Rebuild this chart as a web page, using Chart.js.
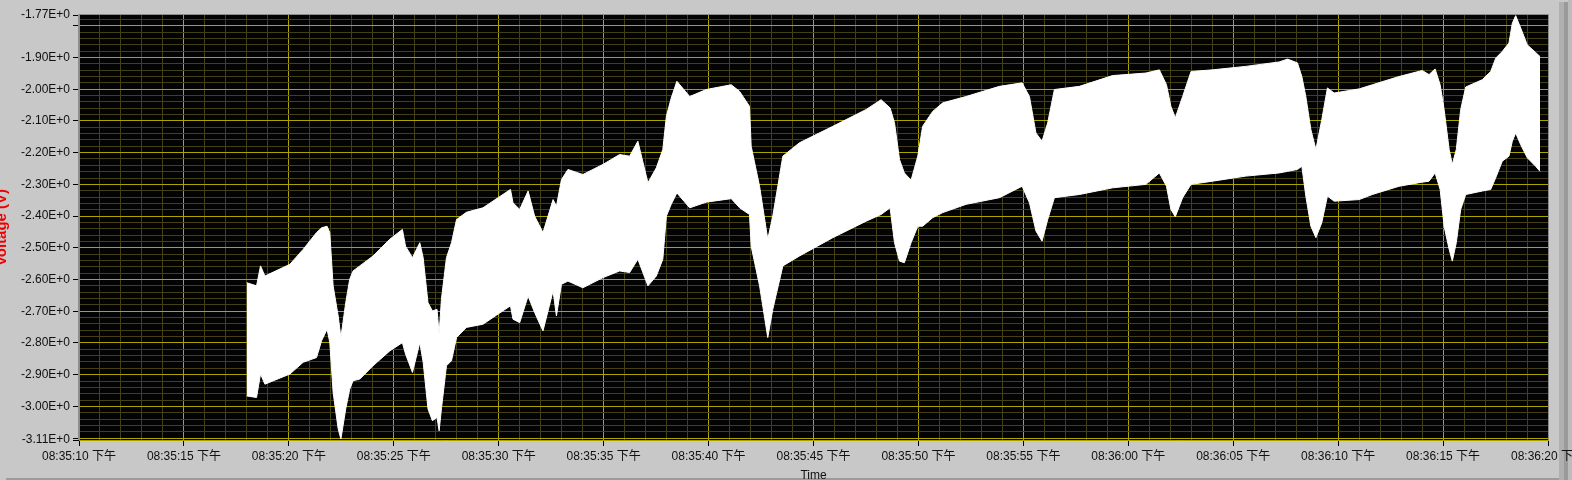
<!DOCTYPE html>
<html>
<head>
<meta charset="utf-8">
<title>Voltage</title>
<script src="https://cdn.jsdelivr.net/npm/chart.js@4/dist/chart.umd.min.js"></script>
<style>
    html, body { margin: 0; padding: 0; background: #c8c8c8; overflow: hidden; }
    canvas { display: block; }
</style>
</head>
<body>
<canvas id="voltageChart" width="1572" height="480"></canvas>
<script>
// 时间轴: 从 08:35:10 开始的秒数
const times = [7.99, 8.46, 8.65, 8.86, 10.05, 10.68, 11.32, 11.56, 11.82, 11.95,
    12.11, 12.35, 12.48, 12.71, 12.90, 13.06, 13.38, 14.01, 14.81, 15.41,
    15.56, 15.89, 16.24, 16.40, 16.63, 16.84, 17.06, 17.16, 17.27, 17.51,
    17.75, 17.99, 18.46, 19.25, 19.97, 20.56, 20.68, 21.00, 21.40, 21.71,
    22.11, 22.59, 22.75, 22.99, 23.30, 24.01, 24.97, 25.76, 26.24, 26.63,
    27.11, 27.51, 27.82, 27.99, 28.22, 28.49, 29.10, 29.89, 31.08, 31.48,
    31.95, 32.03, 32.43, 32.82, 33.06, 33.54, 34.33, 35.92, 37.51, 38.22,
    38.65, 38.86, 39.10, 39.33, 39.65, 39.97, 40.20, 40.68, 41.16, 42.27,
    43.86, 44.94, 45.29, 45.60, 45.89, 46.16, 46.48, 47.67, 49.25, 50.84,
    51.48, 51.82, 52.03, 52.24, 52.59, 52.99, 54.01, 55.60, 57.19, 57.59,
    58.06, 58.27, 58.46, 58.70, 58.94, 59.22, 59.49, 59.81, 61.00, 61.63,
    62.90, 64.01, 64.33, 64.62, 64.86, 65.05, 65.29, 65.44, 65.63, 65.84,
    66.08, 66.87, 67.27, 67.51, 67.82, 68.14, 68.30, 68.46, 68.70, 69.01, 69.41, 69.62];

// 上包络 (V)
const upperVolts = [-2.610, -2.620, -2.557, -2.589, -2.552, -2.505, -2.452, -2.437, -2.432, -2.452,
    -2.620, -2.715, -2.783, -2.673, -2.599, -2.573, -2.557, -2.526, -2.473, -2.442,
    -2.495, -2.531, -2.484, -2.531, -2.673, -2.699, -2.694, -2.772, -2.662, -2.531,
    -2.484, -2.411, -2.388, -2.374, -2.342, -2.316, -2.358, -2.379, -2.321, -2.400,
    -2.452, -2.348, -2.369, -2.285, -2.253, -2.269, -2.237, -2.206, -2.211, -2.164,
    -2.295, -2.248, -2.190, -2.085, -2.028, -1.975, -2.023, -2.001, -1.986, -2.007,
    -2.054, -2.180, -2.306, -2.473, -2.400, -2.211, -2.169, -2.117, -2.064, -2.033,
    -2.059, -2.106, -2.222, -2.264, -2.287, -2.211, -2.117, -2.070, -2.043, -2.023,
    -1.991, -1.980, -2.023, -2.138, -2.164, -2.106, -2.001, -1.991, -1.957, -1.949,
    -1.939, -1.986, -2.054, -2.090, -2.023, -1.944, -1.939, -1.928, -1.914, -1.905,
    -1.917, -1.960, -2.023, -2.127, -2.190, -2.096, -1.996, -2.012, -1.999, -1.986,
    -1.960, -1.941, -1.954, -1.936, -1.986, -2.064, -2.190, -2.237, -2.190, -2.064,
    -1.993, -1.970, -1.944, -1.902, -1.881, -1.854, -1.792, -1.768, -1.807, -1.860, -1.884, -1.897];

// 下包络 (V)
const lowerVolts = [-2.967, -2.972, -2.898, -2.930, -2.898, -2.861, -2.846, -2.793, -2.757, -2.798,
    -2.956, -3.071, -3.103, -3.008, -2.946, -2.919, -2.914, -2.872, -2.825, -2.799,
    -2.835, -2.893, -2.799, -2.861, -3.008, -3.045, -3.035, -3.077, -3.008, -2.872,
    -2.856, -2.783, -2.751, -2.741, -2.709, -2.683, -2.725, -2.736, -2.652, -2.704,
    -2.762, -2.636, -2.715, -2.615, -2.605, -2.626, -2.594, -2.573, -2.578, -2.536,
    -2.620, -2.589, -2.536, -2.400, -2.363, -2.327, -2.374, -2.356, -2.345, -2.374,
    -2.395, -2.495, -2.620, -2.783, -2.694, -2.557, -2.526, -2.468, -2.416, -2.395,
    -2.374, -2.484, -2.542, -2.547, -2.484, -2.432, -2.432, -2.405, -2.389, -2.363,
    -2.342, -2.306, -2.358, -2.447, -2.479, -2.411, -2.342, -2.332, -2.311, -2.300,
    -2.264, -2.306, -2.379, -2.402, -2.342, -2.300, -2.290, -2.274, -2.264, -2.259,
    -2.253, -2.243, -2.337, -2.432, -2.468, -2.421, -2.337, -2.353, -2.348, -2.332,
    -2.306, -2.293, -2.290, -2.264, -2.316, -2.432, -2.505, -2.542, -2.484, -2.379,
    -2.332, -2.321, -2.316, -2.279, -2.227, -2.211, -2.164, -2.138, -2.175, -2.216, -2.243, -2.259];

// 横轴刻度标签 (每 5 秒)
const xTickLabels = ['08:35:10 下午', '08:35:15 下午', '08:35:20 下午', '08:35:25 下午',
    '08:35:30 下午', '08:35:35 下午', '08:35:40 下午', '08:35:45 下午', '08:35:50 下午',
    '08:35:55 下午', '08:36:00 下午', '08:36:05 下午', '08:36:10 下午', '08:36:15 下午',
    '08:36:20 下午'];

const xMax = 70;
const yMin = -3.106;
const yMax = -1.766;

const MAJOR = '#aca200';
const MINOR = '#444016';
const FONT = "'Liberation Sans', 'Noto Sans CJK SC', sans-serif";

const isMajorY = v => Math.abs(v * 10 - Math.round(v * 10)) < 1e-6;
const isEndY = v => v === yMin || v === yMax;

// 面板装饰 + 黑色绘图区背景
const plotBackground = {
    id: 'plotBackground',
    beforeDraw(chart) {
        const { ctx, chartArea: a } = chart;
        ctx.save();
        // 右侧与底部的面板边
        ctx.fillStyle = '#b0b0b0';
        ctx.fillRect(1559, 2, 5, 478);
        ctx.fillStyle = '#9a9a9a';
        ctx.fillRect(1564, 2, 4, 478);
        ctx.fillStyle = '#bcbcbc';
        ctx.fillRect(1568, 0, 4, 480);
        ctx.fillStyle = '#9c9c9c';
        ctx.fillRect(6, 478, 1553, 2);
        // 绘图区
        ctx.fillStyle = '#030303';
        ctx.fillRect(a.left, a.top, a.right - a.left, a.bottom - a.top);
        ctx.restore();
    }
};

// 绘图区外框
const plotFrame = {
    id: 'plotFrame',
    afterDraw(chart) {
        const { ctx, chartArea: a } = chart;
        ctx.save();
        ctx.strokeStyle = '#8c8c8c';
        ctx.lineWidth = 1;
        ctx.beginPath();
        ctx.moveTo(a.left - 0.5, a.bottom);
        ctx.lineTo(a.left - 0.5, a.top - 0.5);
        ctx.lineTo(a.right + 0.5, a.top - 0.5);
        ctx.lineTo(a.right + 0.5, a.bottom);
        ctx.stroke();
        ctx.restore();
    }
};

const lowerPts = times.map((t, i) => ({ x: t, y: lowerVolts[i] }));
const upperPts = times.map((t, i) => ({ x: t, y: upperVolts[i] }));

new Chart(document.getElementById('voltageChart'), {
    type: 'line',
    data: {
        datasets: [
            {
                label: 'min',
                data: lowerPts,
                borderColor: '#ffffff',
                borderWidth: 1,
                pointRadius: 0,
                tension: 0,
                fill: false
            },
            {
                label: 'max',
                data: upperPts,
                borderColor: '#ffffff',
                backgroundColor: '#ffffff',
                borderWidth: 1,
                pointRadius: 0,
                tension: 0,
                fill: '-1'
            }
        ]
    },
    options: {
        responsive: false,
        animation: false,
        layout: { padding: { top: 15, right: 24, left: 0, bottom: 0 } },
        plugins: {
            legend: { display: false },
            tooltip: { enabled: false }
        },
        scales: {
            x: {
                type: 'linear',
                min: 0,
                max: xMax,
                afterBuildTicks(scale) {
                    const ticks = [];
                    for (let s = 0; s <= xMax; s++) ticks.push({ value: s });
                    scale.ticks = ticks;
                },
                afterFit(scale) {
                    scale.height = 40;
                    scale.paddingLeft = 0;
                    scale.paddingRight = 0;
                },
                ticks: {
                    autoSkip: false,
                    maxRotation: 0,
                    padding: 3,
                    color: '#101010',
                    font: { family: FONT, size: 12 },
                    callback: v => (v % 5 === 0 ? xTickLabels[v / 5] : '')
                },
                grid: {
                    lineWidth: 1,
                    tickLength: 6,
                    color: c => (c.tick.value % 5 === 0 ? MAJOR : MINOR),
                    tickColor: c => (c.tick.value % 5 === 0 ? '#000000' : 'rgba(0,0,0,0)')
                },
                border: { display: true, color: MAJOR },
                title: {
                    display: true,
                    text: 'Time',
                    color: '#101010',
                    padding: 0,
                    font: { family: FONT, size: 12, lineHeight: 0.66 }
                }
            },
            y: {
                type: 'linear',
                min: yMin,
                max: yMax,
                afterBuildTicks(scale) {
                    const ticks = [{ value: yMin }];
                    for (let k = -155; k <= -89; k++) ticks.push({ value: k / 50 });
                    ticks.push({ value: yMax });
                    scale.ticks = ticks;
                },
                afterFit(scale) {
                    scale.width = 79;
                    scale.paddingTop = 0;
                    scale.paddingBottom = 0;
                },
                ticks: {
                    autoSkip: false,
                    padding: 3,
                    color: '#101010',
                    font: { family: FONT, size: 12 },
                    callback: v => {
                        if (isEndY(v)) return v.toFixed(2) + 'E+0';
                        if (!isMajorY(v)) return '';
                        if (v - yMin < 0.04 || yMax - v < 0.04) return '';
                        return v.toFixed(2) + 'E+0';
                    }
                },
                grid: {
                    lineWidth: 1,
                    tickLength: 6,
                    color: c => {
                        const v = c.tick.value;
                        if (isEndY(v)) return 'rgba(0,0,0,0)';
                        return isMajorY(v) ? MAJOR : MINOR;
                    },
                    tickColor: c => {
                        const v = c.tick.value;
                        return isEndY(v) || isMajorY(v) ? '#000000' : 'rgba(0,0,0,0)';
                    }
                },
                border: { display: true, color: '#8c8c8c' },
                title: {
                    display: true,
                    text: 'Voltage (V)',
                    color: '#f00000',
                    padding: 0,
                    font: { family: FONT, size: 15, weight: 'bold', lineHeight: 0.2 }
                }
            }
        }
    },
    plugins: [plotBackground, plotFrame]
});
</script>
</body>
</html>
